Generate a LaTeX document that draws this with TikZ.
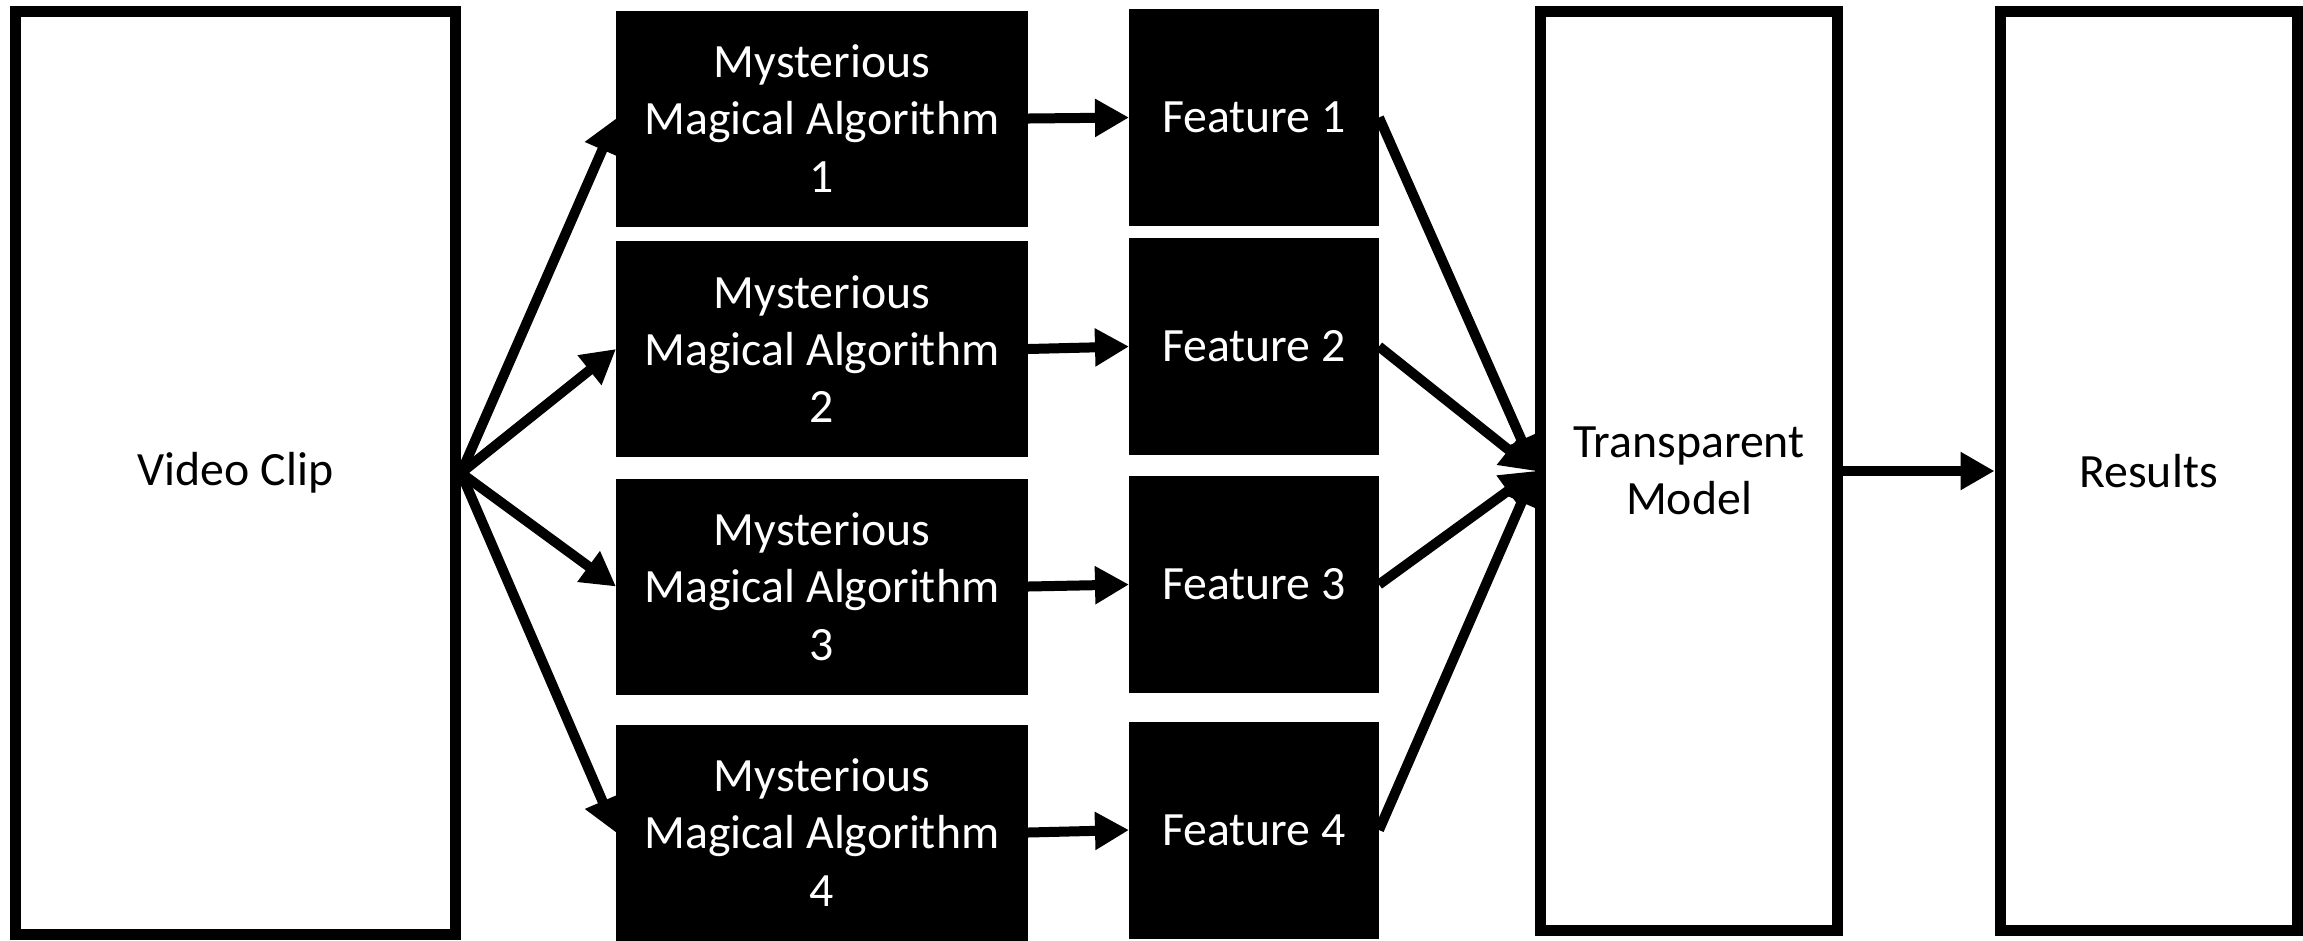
\documentclass[tikz,border=0pt]{standalone}
\usepackage{fontspec}
\setmainfont{Carlito}
\usetikzlibrary{arrows.meta}
\begin{document}
\begin{tikzpicture}[line join=miter, >={Triangle[length=3.4mm,width=3.6mm]}, line width=1mm]
	\tikzset{every node/.style={font=\fontsize{13.6pt}{16.3pt}\selectfont, align=center, inner sep=0pt}}
	\tikzset{whitebox/.style={draw, line width=1.1mm, fill=white}, blackbox/.style={fill=black, text=white, outer sep=0pt}}
	\useasboundingbox (0,0) rectangle (23.03,-9.40);
	% input and output
	\node[whitebox, minimum width=4.40cm, minimum height=9.23cm] (clip) at (2.355,-4.73) {Video Clip};
	\node[whitebox, minimum width=2.965cm, minimum height=9.185cm] (model) at (16.89,-4.71) {Transparent\\Model};
	\node[whitebox, minimum width=2.97cm, minimum height=9.185cm] (res) at (21.485,-4.71) {Results};
	% black boxes
	\node[blackbox, minimum width=4.12cm, minimum height=2.16cm] (alg1) at (8.22,-1.185) {Mysterious\\Magical Algorithm\\1};
	\node[blackbox, minimum width=4.12cm, minimum height=2.16cm] (alg2) at (8.22,-3.49) {Mysterious\\Magical Algorithm\\2};
	\node[blackbox, minimum width=4.12cm, minimum height=2.16cm] (alg3) at (8.22,-5.865) {Mysterious\\Magical Algorithm\\3};
	\node[blackbox, minimum width=4.12cm, minimum height=2.16cm] (alg4) at (8.22,-8.325) {Mysterious\\Magical Algorithm\\4};
	\node[blackbox, minimum width=2.50cm, minimum height=2.17cm] (feat1) at (12.54,-1.175) {Feature 1};
	\node[blackbox, minimum width=2.50cm, minimum height=2.17cm] (feat2) at (12.54,-3.465) {Feature 2};
	\node[blackbox, minimum width=2.50cm, minimum height=2.17cm] (feat3) at (12.54,-5.845) {Feature 3};
	\node[blackbox, minimum width=2.50cm, minimum height=2.17cm] (feat4) at (12.54,-8.30) {Feature 4};
	% arrows
	\draw[->] (clip.east) -- (alg1.west);
	\draw[->] (clip.east) -- (alg2.west);
	\draw[->] (clip.east) -- (alg3.west);
	\draw[->] (clip.east) -- (alg4.west);
	\draw[->] (alg1.east) -- (feat1.west);
	\draw[->] (alg2.east) -- (feat2.west);
	\draw[->] (alg3.east) -- (feat3.west);
	\draw[->] (alg4.east) -- (feat4.west);
	\draw[->] (feat1.east) -- (model.west);
	\draw[->] (feat2.east) -- (model.west);
	\draw[->] (feat3.east) -- (model.west);
	\draw[->] (feat4.east) -- (model.west);
	\draw[->] (model.east) -- (res.west);
\end{tikzpicture}
\end{document}
